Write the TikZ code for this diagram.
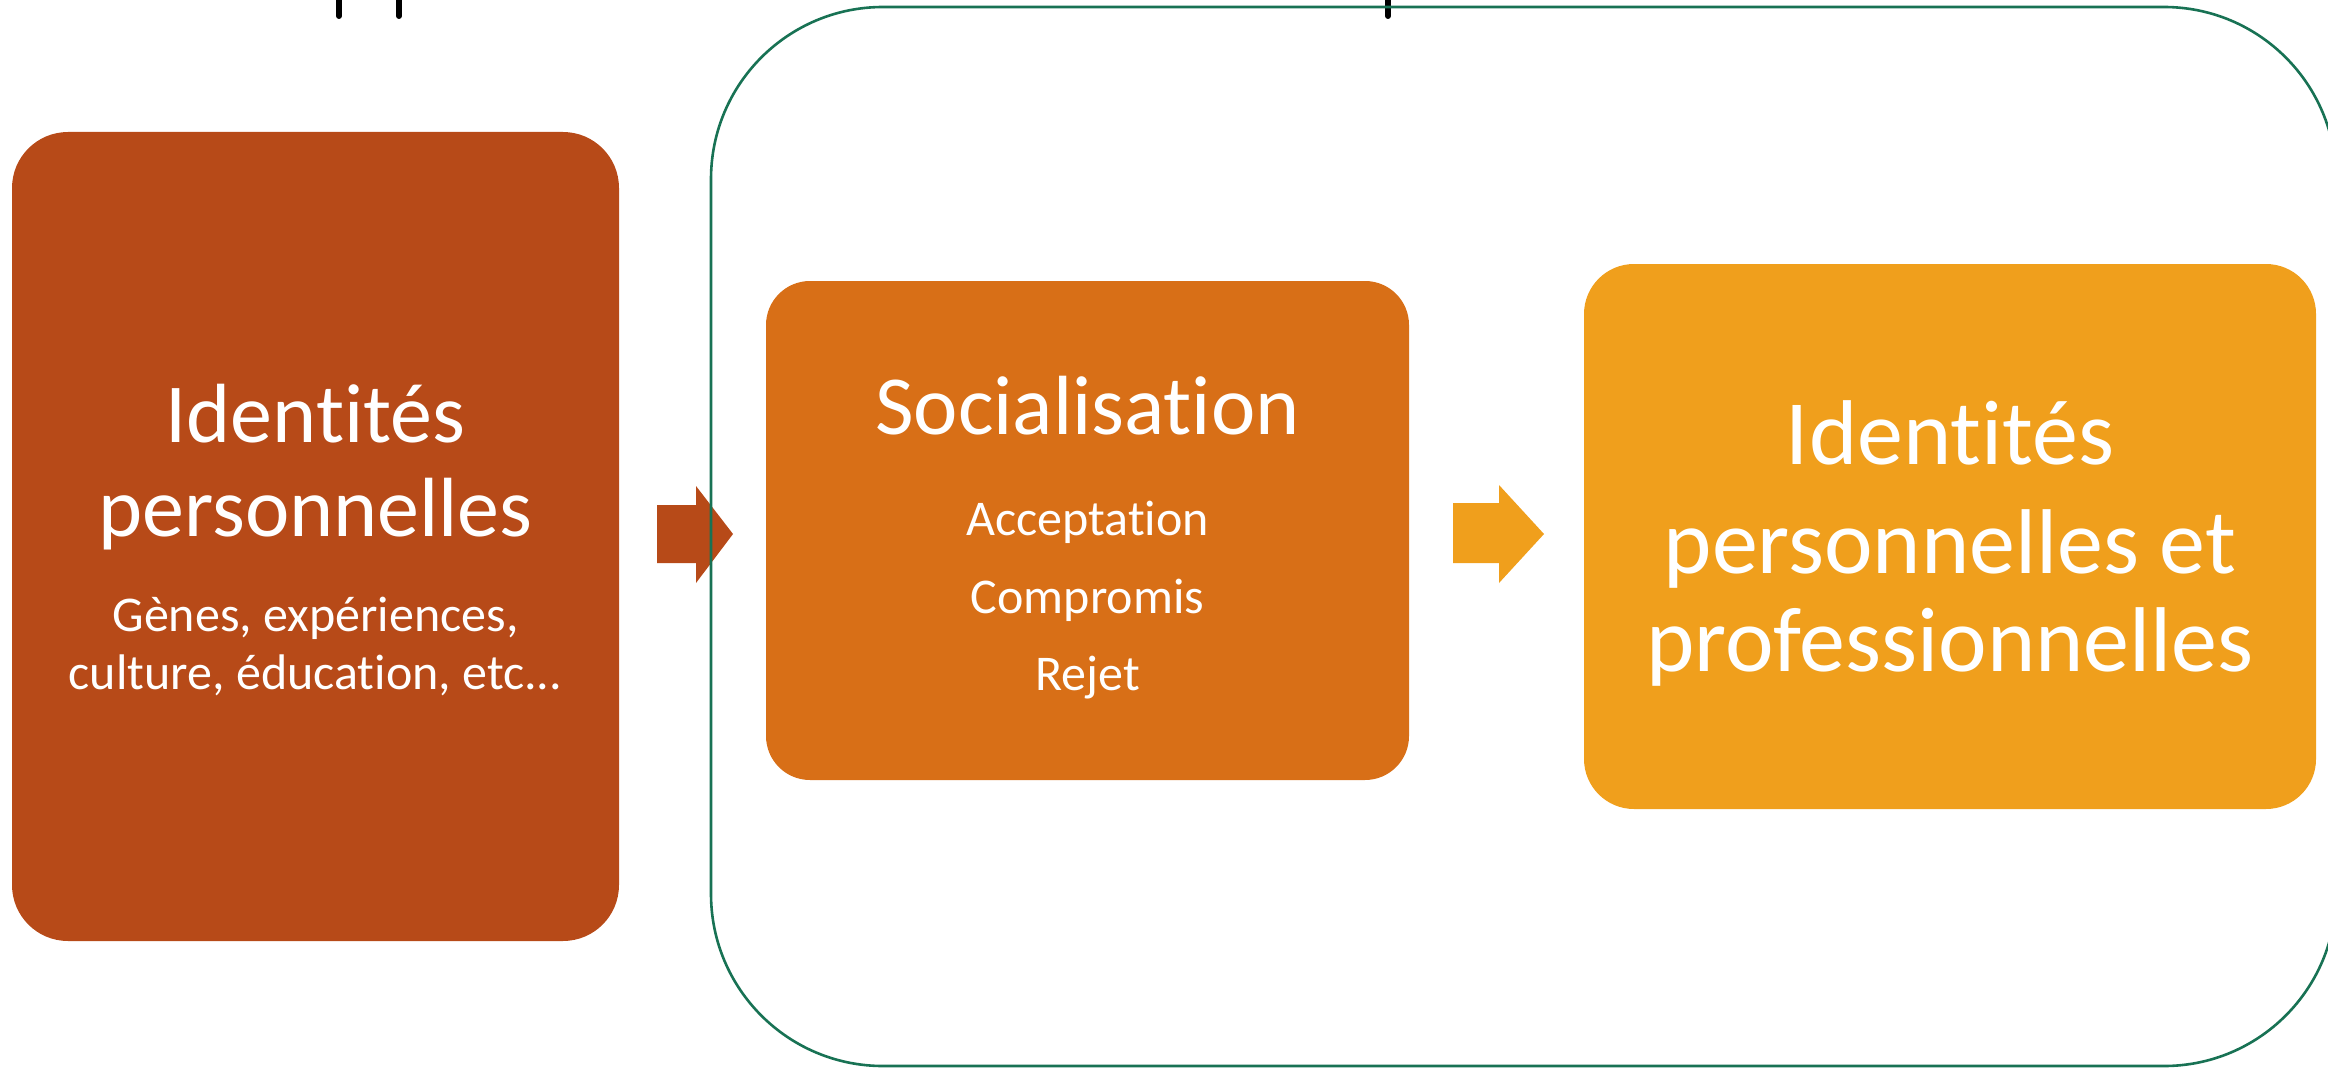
\documentclass[tikz,border=0pt]{standalone}
\usepackage{fontspec}
\setmainfont{Carlito}[Ligatures=NoCommon]
\definecolor{boxA}{RGB}{183,74,24}
\definecolor{boxB}{RGB}{216,111,23}
\definecolor{boxC}{RGB}{240,159,28}
\definecolor{frameG}{RGB}{24,114,84}
\begin{document}
\begin{tikzpicture}[x=0.5pt,y=-0.5pt,
  blockbox/.style={rectangle,inner sep=0pt,draw=none},
  bigtxt/.style={anchor=base,text=white,inner sep=0pt,font=\fontsize{42}{46}\selectfont},
  hugetxt/.style={anchor=base,text=white,inner sep=0pt,font=\fontsize{46}{50}\selectfont},
  smalltxt/.style={anchor=base,text=white,inner sep=0pt,font=\fontsize{25}{30}\selectfont}]
\useasboundingbox (0,0) rectangle (2328,1070);
\clip (0,0) rectangle (2328,1070);
% cut-off title descenders
\foreach \xx in {339,399,1388}{
  \draw[black,line width=3pt,line cap=round] (\xx,-5) -- (\xx,16);
}
% boxes
\node[blockbox,fill=boxA,minimum width=303.5pt,minimum height=404.5pt,rounded corners=28pt] (left) at (315.5,536.5) {};
\node[blockbox,fill=boxB,minimum width=321.5pt,minimum height=249.5pt,rounded corners=22pt] (mid) at (1087.5,530.5) {};
\node[blockbox,fill=boxC,minimum width=366pt,minimum height=272.5pt,rounded corners=25pt] (right) at (1950,536.5) {};
% arrows
\fill[boxA] (657,505) -- (696,505) -- (696,486) -- (733,534) -- (696,583) -- (696,563) -- (657,563) -- cycle;
\fill[boxC] (1453,503) -- (1499,503) -- (1499,485) -- (1544,534) -- (1499,583) -- (1499,563) -- (1453,563) -- cycle;
% frame
\draw[frameG,line width=1.3pt,rounded corners=86pt] (711,7) rectangle (2336,1066);
% texts left
\node[bigtxt] (l1) at (315.5,442) {Identités};
\node[bigtxt] (l2) at (315.5,536) {personnelles};
\node[smalltxt] (l3) at (315.5,631) {Gènes, expériences,};
\node[smalltxt] (l4) at (315.5,689) {culture, éducation, etc...};
% texts middle
\node[bigtxt] (m1) at (1087.5,434) {Socialisation};
\node[smalltxt] (m2) at (1087.5,535) {Acceptation};
\node[smalltxt] (m3) at (1087.5,613) {Compromis};
\node[smalltxt] (m4) at (1087.5,690) {Rejet};
% texts right
\node[hugetxt] (r1) at (1950,464) {Identités};
\node[hugetxt] (r2) at (1950,573) {personnelles et};
\node[hugetxt] (r3) at (1950,671) {professionnelles};
\end{tikzpicture}
\end{document}
